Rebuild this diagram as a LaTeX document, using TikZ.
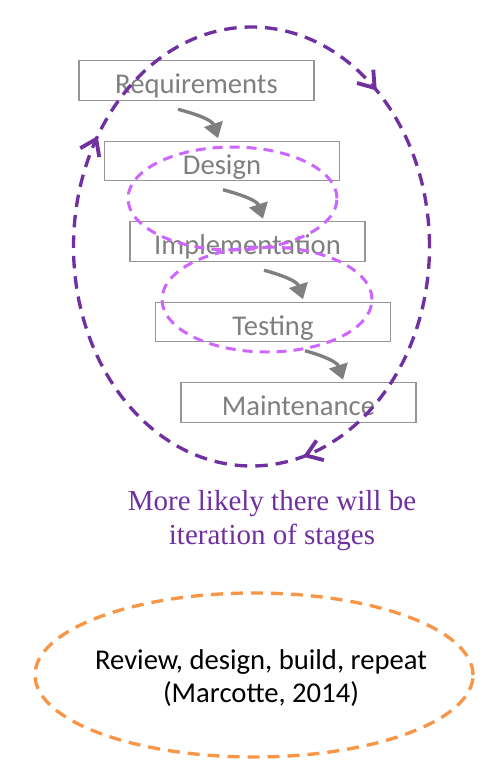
\documentclass[tikz,border=0pt]{standalone}
\usepackage{fontspec}
\setmainfont{Carlito}
\newfontfamily\notefont{Liberation Serif}
\usetikzlibrary{shapes.geometric, arrows.meta, calc, positioning, decorations.markings}
\definecolor{stagegray}{RGB}{127,127,127}
\definecolor{framegray}{RGB}{150,150,150}
\definecolor{loopviolet}{RGB}{112,48,160}
\definecolor{looppink}{RGB}{204,102,255}
\definecolor{revieworange}{RGB}{247,150,70}
\tikzstyle{stage} = [rectangle, minimum width=4.7cm, minimum height=0.79cm, inner sep=0pt, outer sep=0pt,
text height=0.52cm, text depth=0pt, draw=framegray, line width=0.8pt, text=stagegray,
font=\fontsize{16.3}{19.4}\selectfont]
\tikzstyle{arrow} = [line width=1.9pt, draw=stagegray, -{Triangle[length=0.3cm, width=0.38cm]}]
\tikzstyle{bigloop} = [loopviolet, line width=1.9pt, dash pattern=on 0.25cm off 0.16cm]
\tikzstyle{smallloop} = [looppink, line width=1.7pt, dash pattern=on 0.2cm off 0.14cm]
\tikzstyle{review} = [revieworange, line width=1.9pt, dash pattern=on 0.24cm off 0.16cm]
\tikzstyle{turn} = [decoration={markings,
mark=at position 0.134 with {\arrowreversed{Straight Barb[length=0.3cm, width=0.42cm, line width=2.2pt]}},
mark=at position 0.409 with {\arrowreversed{Straight Barb[length=0.3cm, width=0.42cm, line width=2.2pt]}},
mark=at position 0.792 with {\arrowreversed{Straight Barb[length=0.3cm, width=0.42cm, line width=2.2pt]}}},
postaction=decorate]

\begin{document}
\begin{tikzpicture}
      \useasboundingbox (0,0) rectangle (9.9,-15.64);

      \node (req) [stage] at (3.93,-1.61) {Requirements};
      \node (des) [stage, below=0.82cm of req, xshift=0.51cm] {Design};
      \node (imp) [stage, below=0.82cm of des, xshift=0.51cm] {Implementation};
      \node (tes) [stage, below=0.82cm of imp, xshift=0.51cm] {Testing};
      \node (mai) [stage, below=0.82cm of tes, xshift=0.51cm] {Maintenance};

      \draw [arrow] ([xshift=-0.37cm, yshift=-0.18cm]req.south) to[out=-15, in=108] ([xshift=-0.08cm, yshift=0.06cm]des.north);
      \draw [arrow] ([xshift=0.02cm, yshift=-0.18cm]des.south) to[out=-15, in=108] ([xshift=0.31cm, yshift=0.06cm]imp.north);
      \draw [arrow] ([xshift=0.33cm, yshift=-0.18cm]imp.south) to[out=-15, in=108] ([xshift=0.60cm, yshift=0.06cm]tes.north);
      \draw [arrow] ([xshift=0.64cm, yshift=-0.18cm]tes.south) to[out=-15, in=108] ([xshift=0.89cm, yshift=0.06cm]mai.north);

      % iteration loops
      \draw [smallloop] (4.65,-3.97) ellipse [x radius=2.09cm, y radius=1.03cm];
      \draw [smallloop] (5.34,-5.99) ellipse [x radius=2.10cm, y radius=1.05cm];
      \draw [bigloop, turn] (5.03,-4.93) ellipse [x radius=3.56cm, y radius=4.39cm];

      \node (iter) at (5.44,-10.42) [text=loopviolet, align=center, font=\notefont\fontsize{16.5}{19.35}\selectfont] {More likely there will be\\iteration of stages};

      \node (rdb) at (5.22,-13.56) [align=center, font=\fontsize{16.3}{18.8}\selectfont] {Review, design, build, repeat\\(Marcotte, 2014)};
      \draw [review] (5.08,-13.5) ellipse [x radius=4.38cm, y radius=1.64cm];
\end{tikzpicture}
\end{document}
